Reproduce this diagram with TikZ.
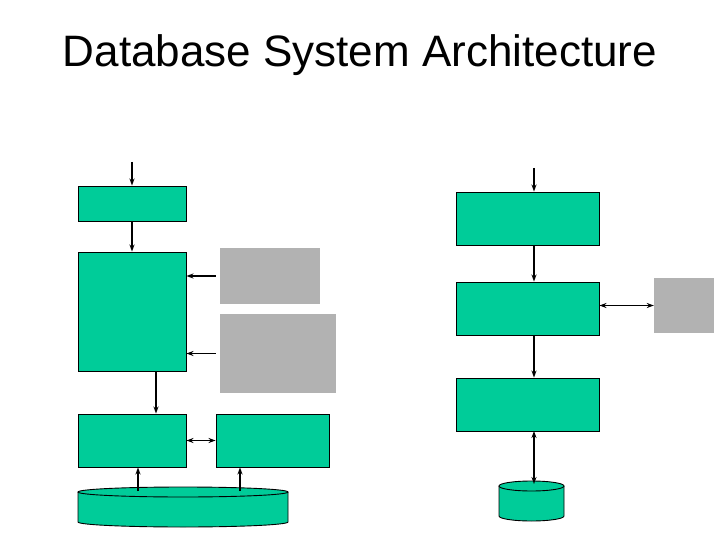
\documentclass[tikz,border=0pt]{standalone}
\usepackage{fontspec}
\setmainfont{Liberation Sans}
\usetikzlibrary{arrows.meta}
\definecolor{boxgreen}{RGB}{0,204,153}
\definecolor{boxgray}{RGB}{178,178,178}
\begin{document}
\begin{tikzpicture}[x=1pt,y=-1pt,
  gbox/.style={draw=black, line width=0.9pt, fill=boxgreen, inner sep=0pt, minimum width=#1},
  graybox/.style={fill=boxgray, inner sep=0pt},
  arr/.style={line width=1.5pt, -{Stealth[length=7pt,width=5pt]}},
  darr/.style={line width=1.5pt, {Stealth[length=7pt,width=5pt]}-{Stealth[length=7pt,width=5pt]}},
  cyl/.style={draw=black, line width=0.9pt, fill=boxgreen}]
\useasboundingbox (0,0) rectangle (720,540);
\node[font=\fontsize{44}{50}\selectfont] (title) at (360,55) {Database System Architecture};
% left column
\node[gbox=108pt, minimum height=35pt] (A) at (132,203.5) {};
\node[gbox=108pt, minimum height=119pt] (B) at (132,311.5) {};
\node[gbox=108pt, minimum height=53pt] (C) at (132,440.5) {};
\node[gbox=113pt, minimum height=53pt] (D) at (272.5,440.5) {};
\node[graybox, minimum width=100pt, minimum height=56pt] (G1) at (270,276) {};
\node[graybox, minimum width=116pt, minimum height=79pt] (G2) at (278,353.5) {};
% left cylinder
\filldraw[cyl] (78,492) -- (78,522) arc[start angle=180, end angle=0, x radius=105, y radius=5] -- (288,492);
\filldraw[cyl] (183,492) ellipse[x radius=105, y radius=5];
\coordinate (cl1) at (138,491);
\coordinate (cl2) at (240,491);
% right column
\node[gbox=143pt, minimum height=53pt] (E) at (527.5,218.5) {};
\node[gbox=143pt, minimum height=53pt] (F) at (527.5,308.5) {};
\node[gbox=143pt, minimum height=53pt] (G) at (527.5,404.5) {};
\node[graybox, minimum width=60pt, minimum height=55pt] (G3) at (684,305.5) {};
% right cylinder
\filldraw[cyl] (499,486) -- (499,516) arc[start angle=180, end angle=0, x radius=32.5, y radius=5] -- (564,486);
\filldraw[cyl] (531.5,486) ellipse[x radius=32.5, y radius=5];
% connectors left
\coordinate (inA) at (132,162);
\draw[arr] (inA) -- (inA |- A.north);
\draw[arr] (A.south) -- (B.north);
\draw[arr, shorten <=4pt] (G1.west) -- (G1.west -| B.east);
\draw[arr, shorten <=4pt] (G2.west) -- (G2.west -| B.east);
\coordinate (bc) at (156,371);
\draw[arr] (bc) -- (bc |- C.north);
\draw[darr] (C.east) -- (D.west);
\draw[arr] (cl1) -- (cl1 |- C.south);
\draw[arr] (cl2) -- (cl2 |- D.south);
% connectors right
\coordinate (inE) at (534,168);
\draw[arr] (inE) -- (inE |- E.north);
\coordinate (ef) at (534,245);
\draw[arr] (ef) -- (ef |- F.north);
\coordinate (fg) at (534,335);
\draw[arr] (fg) -- (fg |- G.north);
\draw[darr] (G3.west -| F.east) -- (G3.west);
\coordinate (gc) at (534,431);
\coordinate (c2) at (534,484);
\draw[darr] (gc) -- (c2);
\end{tikzpicture}
\end{document}
